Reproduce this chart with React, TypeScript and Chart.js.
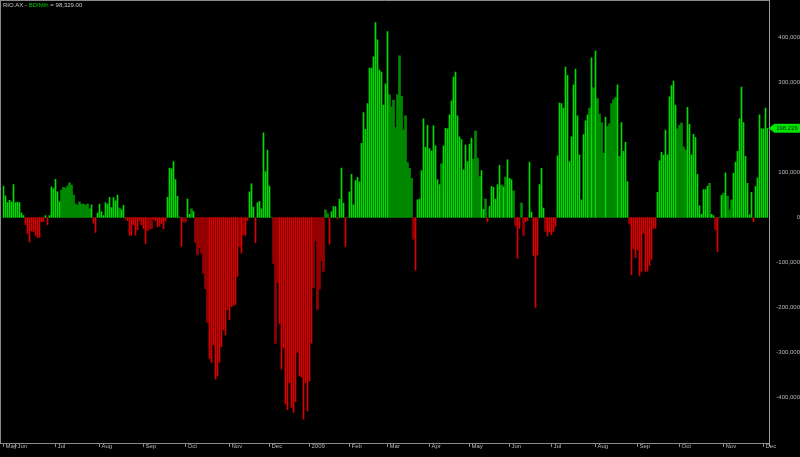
import React, { useEffect, useRef } from 'react';
import { Chart, registerables } from 'chart.js';

Chart.register(...registerables);

// BDIMth indicator values, in thousands, one per trading day (late May 2008 .. early Dec 2009)
const bdimThousands: number[] = [
  70, 48, 33, 38, 35, 73, 33, 34, 33, 10,
  4, -16, -36, -54, -30, -31, -40, -44, -44, -9,
  -9, 4, -16, 4, 68, 64, 85, 57, 35, 61,
  67, 65, 70, 77, 72, 50, 30, 27, 34, 29,
  30, 27, 30, 19, 28, -12, -33, 10, 30, 13,
  4, 33, 30, 45, 22, 44, 37, 50, 21, 17,
  27, -3, -7, -39, -39, -16, -39, -27, -7, -16,
  -24, -58, -29, -26, -25, -4, -7, -21, -19, -13,
  -25, -8, 45, 110, 108, 124, 84, 47, 1, -64,
  -10, -10, 41, 7, 19, 13, -56, -83, -67, -79,
  -124, -158, -233, -313, -322, -283, -359, -352, -322, -287,
  -250, -261, -205, -227, -198, -196, -193, -131, -64, -79,
  -39, -39, -7, 57, 75, 23, -56, 33, 36, 19,
  188, 102, 150, 70, 0, -102, -280, -144, -236, -337,
  -290, -415, -427, -367, -422, -433, -409, -300, -352, -355,
  -448, -367, -430, -363, -279, -156, -52, -204, -159, -96,
  -120, 17, 8, -59, 13, 24, 24, -3, 41, 110,
  32, -64, 0, 57, 96, 28, 82, 89, 79, 165,
  233, 196, 253, 332, 332, 357, 433, 395, 328, 323,
  250, 297, 413, 273, 246, 261, 200, 273, 359, 269,
  195, 226, 122, 109, 87, -48, -117, 39, 41, 104,
  219, 156, 205, 153, 148, 204, 159, 84, 73, 119,
  159, 198, 197, 228, 259, 312, 323, 226, 179, 173,
  106, 161, 124, 163, 176, 130, 192, 132, 91, 104,
  18, 41, -9, 25, 69, 67, 41, 73, 116, 72,
  68, 90, 128, 87, 84, 59, -18, -91, -24, 32,
  -40, -9, -7, 123, 12, -85, -200, -83, 73, 109,
  21, -31, -41, -32, -38, -31, -20, 137, 254, 253,
  243, 334, 316, 124, 179, 295, 330, 226, 139, 39,
  184, 215, 228, 243, 355, 288, 370, 264, 230, 211,
  143, 223, 202, 208, 253, 262, 267, 295, 136, 211,
  147, 167, 80, -15, -127, -70, -89, -72, -129, -120,
  -36, -120, -119, -107, -93, -24, -24, 56, 126, 145,
  139, 194, 139, 268, 293, 303, 250, 197, 205, 210,
  157, 150, 245, 207, 139, 185, 178, 96, 26, 7,
  62, 62, 69, 76, 7, 4, -27, -76, 0, 49,
  54, 99, 47, 17, 39, 98, 123, 147, 219, 290,
  211, 136, 76, 6, 56, -9, 69, 88, 228, 197,
  197, 243, 198.226,
];

// bars drawn in the darker shade (index ranges, inclusive)
const darkBarRanges: [number, number][] = [
  [29, 43], [58, 58], [72, 74], [90, 91], [94, 94], [96, 102], [118, 118], [120, 120],
  [135, 137], [155, 160], [161, 162], [193, 205], [219, 219], [235, 238], [241, 241],
  [249, 249], [251, 251], [255, 256], [259, 260], [271, 271], [293, 293], [295, 295],
  [297, 300], [302, 306], [308, 308], [313, 313], [337, 341], [353, 353], [356, 356],
  [360, 360], [362, 364],
];

const monthTickIndex = [0, 6, 26, 48, 70, 91, 113, 133, 153, 173, 192, 213, 233, 253, 274, 296, 317, 338, 360, 380];
const monthTickLabel = ['May', 'Jun', 'Jul', 'Aug', 'Sep', 'Oct', 'Nov', 'Dec', '2009', 'Feb', 'Mar', 'Apr', 'May', 'Jun', 'Jul', 'Aug', 'Sep', 'Oct', 'Nov', 'Dec'];

const yTickValues = [-400000, -300000, -200000, -100000, 0, 100000, 200000, 300000, 400000];
const yMin = -501111;
const yMax = 481111;

const titleSymbol = 'RIO.AX';
const titleIndicator = 'BDIMth';
const titleValue = '98,329.00';

const GREEN = '#00dc00';
const GREEN_DARK = '#008a00';
const RED = '#dc0000';
const RED_DARK = '#960000';
const AXIS_TEXT = '#b8b8b8';
const FRAME = '#8a8a8a';
const FONT = '"Liberation Sans", Arial, sans-serif';

export default function App() {
  const canvasRef = useRef<HTMLCanvasElement | null>(null);

  useEffect(() => {
    const canvas = canvasRef.current;
    if (!canvas) return;
    const n = bdimThousands.length;
    const values = bdimThousands.map((v) => Math.round(v * 1000));
    const isDark = new Array(n).fill(false);
    darkBarRanges.forEach(([a, b]) => {
      for (let i = a; i <= b; i++) isDark[i] = true;
    });
    const labels = values.map((_, i) => {
      const k = monthTickIndex.indexOf(i);
      return k >= 0 ? monthTickLabel[k] : '';
    });
    const brightData = values.map((v, i) => (isDark[i] ? null : v));
    const darkData = values.map((v, i) => (isDark[i] ? v : null));
    const lastValue = values[n - 1];

    const overlayPlugin = {
      id: 'overlay',
      afterDraw(chart: any) {
        const ctx = chart.ctx as CanvasRenderingContext2D;
        const area = chart.chartArea;
        const fr = Math.round(area.right) + 0.5;
        const fb = Math.round(area.bottom) + 0.5;
        ctx.save();
        ctx.strokeStyle = FRAME;
        ctx.lineWidth = 1;
        ctx.beginPath();
        ctx.moveTo(0.5, 0);
        ctx.lineTo(0.5, fb);
        ctx.moveTo(0, 0.5);
        ctx.lineTo(fr, 0.5);
        ctx.moveTo(0, fb);
        ctx.lineTo(fr, fb);
        ctx.stroke();
        ctx.strokeStyle = '#9c9c9c';
        ctx.beginPath();
        ctx.moveTo(fr, 0);
        ctx.lineTo(fr, fb + 3);
        ctx.stroke();

        const y = chart.scales.y.getPixelForValue(lastValue);
        ctx.fillStyle = '#00e600';
        ctx.beginPath();
        ctx.moveTo(fr - 1, y);
        ctx.lineTo(fr + 5, y - 4.5);
        ctx.lineTo(800, y - 4.5);
        ctx.lineTo(800, y + 4.5);
        ctx.lineTo(fr + 5, y + 4.5);
        ctx.closePath();
        ctx.fill();
        ctx.fillStyle = '#0a2a0a';
        ctx.font = `6px ${FONT}`;
        ctx.textAlign = 'center';
        ctx.textBaseline = 'middle';
        ctx.fillText(lastValue.toLocaleString('en-US'), 787, y + 0.5);
        ctx.restore();
      },
    };

    const colorFor = (dark: boolean) => (c: any) => {
      const v = c.raw;
      if (v === null || v === undefined) return 'rgba(0,0,0,0)';
      if (v >= 0) return dark ? GREEN_DARK : GREEN;
      return dark ? RED_DARK : RED;
    };

    const chart = new Chart(canvas, {
      type: 'bar',
      data: {
        labels,
        datasets: [
          {
            label: 'bright',
            data: brightData,
            backgroundColor: colorFor(false),
            barThickness: 1,
            grouped: false,
            borderWidth: 0,
          },
          {
            label: 'dark',
            data: darkData,
            backgroundColor: colorFor(true),
            barThickness: 2,
            grouped: false,
            borderWidth: 0,
          },
        ],
      } as any,
      options: {
        animation: false,
        responsive: false,
        maintainAspectRatio: false,
        layout: { padding: { left: 2.5, top: 1, right: 0, bottom: 0 } },
        plugins: {
          legend: { display: false },
          tooltip: { enabled: false },
          title: { display: false },
        },
        scales: {
          x: {
            type: 'category',
            offset: true,
            border: { display: false },
            grid: {
              display: true,
              drawOnChartArea: false,
              drawTicks: true,
              tickLength: 4,
              offset: false,
              color: FRAME,
              lineWidth: 1,
            },
            ticks: {
              autoSkip: false,
              maxRotation: 0,
              minRotation: 0,
              align: 'start',
              padding: -4,
              labelOffset: 2,
              color: AXIS_TEXT,
              font: { family: FONT, size: 6 },
              callback: (_v: any, i: number) => (labels[i] ? labels[i] : null),
            },
            afterFit: (s: any) => {
              s.height = 14;
              s.paddingLeft = 0;
              s.paddingRight = 0;
            },
          },
          y: {
            position: 'right',
            min: yMin,
            max: yMax,
            border: { display: false },
            grid: { display: false, drawTicks: false },
            afterBuildTicks: (s: any) => {
              s.ticks = yTickValues.map((v) => ({ value: v }));
            },
            ticks: {
              crossAlign: 'far',
              padding: 6,
              color: AXIS_TEXT,
              font: { family: FONT, size: 6 },
              callback: (v: any) => Number(v).toLocaleString('en-US'),
            },
            afterFit: (s: any) => {
              s.width = 31.5;
              s.paddingTop = 0;
              s.paddingBottom = 0;
            },
          },
        },
      } as any,
      plugins: [overlayPlugin],
    });

    return () => {
      chart.destroy();
    };
  }, []);

  return (
    <div
      style={{
        position: 'fixed',
        left: 0,
        top: 0,
        width: 800,
        height: 457,
        background: '#000',
        overflow: 'hidden',
      }}
    >
      <canvas
        ref={canvasRef}
        width={800}
        height={457}
        style={{ position: 'absolute', left: 0, top: 0, width: 800, height: 457, background: '#000' }}
      />
      <div
        style={{
          position: 'absolute',
          left: 3,
          top: 1,
          fontFamily: FONT,
          fontSize: 6,
          lineHeight: '8px',
          color: '#c8c8c8',
          whiteSpace: 'pre',
        }}
      >
        <span>{titleSymbol} - </span>
        <span style={{ color: '#00c800' }}>{titleIndicator}</span>
        <span> = {titleValue}</span>
      </div>
    </div>
  );
}
